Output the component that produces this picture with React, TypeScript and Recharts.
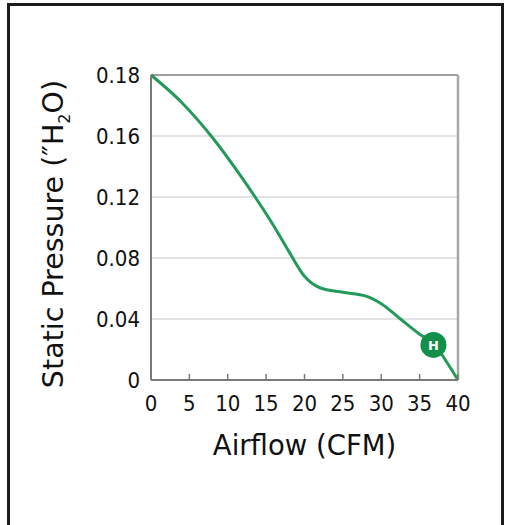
import {
  ComposedChart,
  Line,
  Scatter,
  XAxis,
  YAxis,
  CartesianGrid,
  ReferenceLine,
  Label,
} from "recharts";

// fan curve
const AIRFLOW = [0, 4, 8, 12, 16, 18, 20, 22, 25, 28, 30, 32.5, 35, 37, 38.5, 40];
const PRESSURE = [0.2, 0.182, 0.159, 0.1315, 0.101, 0.084, 0.068, 0.0605, 0.0575, 0.055, 0.05, 0.04, 0.03, 0.023, 0.012, 0];

// operating point marker
const MARKER_X = [36.8];
const MARKER_Y = [0.023];
const MARKER_LABELS = ["H"];

const X_TICKS = [0, 5, 10, 15, 20, 25, 30, 35, 40];
const Y_TICKS = [0, 0.04, 0.08, 0.12, 0.16, 0.2];
const Y_TICK_LABELS = ["0", "0.04", "0.08", "0.12", "0.16", "0.18"];

const curve = AIRFLOW.map((x, i) => ({ x, y: PRESSURE[i] }));
const markers = MARKER_X.map((x, i) => ({ x, y: MARKER_Y[i], label: MARKER_LABELS[i] }));

const TICK_FONT = "'DejaVu Sans Condensed', 'DejaVu Sans', sans-serif";
const TITLE_FONT = "'DejaVu Sans', sans-serif";
const GREEN = "#239a5a";
const X_TICK_MARGIN = 15;

const renderXTick = (props: any) => {
  const { x, y, payload } = props;
  const axisY = y - X_TICK_MARGIN;
  return (
    <g>
      <line x1={x} x2={x} y1={axisY - 6} y2={axisY} stroke="#7a7a7a" strokeWidth={1.5} />
      <text x={x} y={y} dy="0.71em" textAnchor="middle" fontSize={22} fontFamily={TICK_FONT} fill="#111">
        {payload.value}
      </text>
    </g>
  );
};

const renderYTitle = (props: any) => {
  const vb = props.viewBox;
  const x = vb.x + 63;
  const y = vb.y + vb.height / 2 + 6.5;
  return (
    <text
      x={x}
      y={y}
      transform={`rotate(-90, ${x}, ${y})`}
      textAnchor="middle"
      fontSize={28.5}
      fontFamily={TITLE_FONT}
      fill="#111"
    >
      Static Pressure (″H
      <tspan fontSize={16} dy={7}>2</tspan>
      <tspan dy={-7}>O)</tspan>
    </text>
  );
};

const renderXTitle = (props: any) => {
  const vb = props.viewBox;
  return (
    <text
      x={vb.x + vb.width / 2}
      y={vb.y + 75}
      textAnchor="middle"
      fontSize={27.5}
      fontFamily={TITLE_FONT}
      fill="#111"
    >
      Airflow (CFM)
    </text>
  );
};

const renderMarker = (props: any) => {
  const { cx, cy, payload } = props;
  return (
    <g>
      <circle cx={cx} cy={cy} r={13} fill="#12904a" />
      <text
        x={cx}
        y={cy}
        dy="0.36em"
        textAnchor="middle"
        fontSize={13}
        fontWeight="bold"
        fontFamily={TITLE_FONT}
        fill="#fff"
      >
        {payload.label}
      </text>
    </g>
  );
};

function Chart() {
  return (
    <ComposedChart
      width={505}
      height={525}
      margin={{ top: 75, right: 47, left: 0, bottom: 0 }}
    >
      <CartesianGrid vertical={false} stroke="#d9d9d9" strokeWidth={1.5} />
      <ReferenceLine y={0.2} stroke="#8a8a8a" strokeWidth={1.5} />
      <ReferenceLine x={40} stroke="#a8a8a8" strokeWidth={2.5} />
      <XAxis
        type="number"
        dataKey="x"
        domain={[0, 40]}
        ticks={X_TICKS}
        interval={0}
        height={145}
        tickSize={0}
        tickMargin={X_TICK_MARGIN}
        tickLine={false}
        tick={renderXTick}
        axisLine={{ stroke: "#7a7a7a", strokeWidth: 2 }}
      >
        <Label content={renderXTitle} />
      </XAxis>
      <YAxis
        type="number"
        dataKey="y"
        domain={[0, 0.2]}
        ticks={Y_TICKS}
        interval={0}
        width={151}
        tickSize={0}
        tickMargin={11}
        tickLine={false}
        tickFormatter={(v: number, i: number) => Y_TICK_LABELS[i]}
        tick={{ fontSize: 22, fontFamily: TICK_FONT, fill: "#111" }}
        axisLine={{ stroke: "#7a7a7a", strokeWidth: 2 }}
      >
        <Label content={renderYTitle} />
      </YAxis>
      <Line
        data={curve}
        dataKey="y"
        type="monotone"
        stroke={GREEN}
        strokeWidth={3}
        dot={false}
        activeDot={false}
        isAnimationActive={false}
      />
      <Scatter
        data={markers}
        dataKey="y"
        shape={renderMarker}
        isAnimationActive={false}
      />
    </ComposedChart>
  );
}

export default function App() {
  return (
    <>
      <style>{"html, body { margin: 0; padding: 0; background: #fff; overflow: hidden; }"}</style>
      <div style={{ position: "relative", width: 505, height: 525 }}>
        <div
          style={{
            position: "absolute",
            left: 7,
            top: 3,
            width: 497,
            height: 522,
            boxSizing: "border-box",
            borderLeft: "3px solid #1c1c1c",
            borderTop: "3px solid #1c1c1c",
            borderRight: "3px solid #1c1c1c",
          }}
        />
        <div style={{ position: "absolute", left: 0, top: 0 }}>
          <Chart />
        </div>
      </div>
    </>
  );
}
